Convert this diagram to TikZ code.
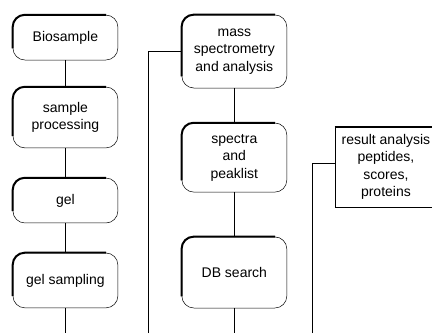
\documentclass[tikz,border=0pt]{standalone}
\usepackage{fontspec}
\setmainfont{Liberation Sans}
\usetikzlibrary{positioning}

\begin{document}
\begin{tikzpicture}[
    stage/.style={
        draw,
        line width=0.5pt,
        rounded corners=12pt,
        align=center,
        font=\fontsize{14}{17.5}\selectfont,
        minimum width=3.69cm,
        inner sep=2pt
    },
    result/.style={
        draw,
        line width=0.5pt,
        align=center,
        font=\fontsize{14}{17.5}\selectfont,
        minimum width=3.59cm,
        minimum height=2.81cm,
        inner sep=1pt
    },
    rim/.style={line width=2pt, rounded corners=12pt},
    link/.style={line width=0.5pt}
]

\clip (0,0) rectangle (15.19,-11.71);

% SAMPLE SIDE
\node[stage, minimum height=1.58cm] (bio) at (2.30,-1.32)
{Biosample};
\draw[rim] ([yshift=12pt]bio.south west) |- ([xshift=-12pt]bio.north east);

\node[stage, minimum height=2.14cm] (proc) at (2.30,-4.13)
{sample\\processing};
\draw[rim] ([yshift=12pt]proc.south west) |- ([xshift=-12pt]proc.north east);

\node[stage, minimum height=1.58cm] (gel) at (2.30,-7.05)
{gel};
\draw[rim] ([yshift=12pt]gel.south west) |- ([xshift=-12pt]gel.north east);

\node[stage, minimum height=1.93cm] (gelsamp) at (2.30,-9.86)
{gel sampling};
\draw[rim] ([yshift=12pt]gelsamp.south west) |- ([xshift=-12pt]gelsamp.north east);

\coordinate (out1) at (2.30,-11.71);

\draw[link] (bio) -- (proc);
\draw[link] (proc) -- (gel);
\draw[link] (gel) -- (gelsamp);
\draw[link] (gelsamp) -- (out1);

% MASS SPECTROMETRY SIDE
\node[stage, minimum height=2.57cm] (ms) at (8.24,-1.81)
{mass\\spectrometry\\and analysis};
\draw[rim] ([yshift=12pt]ms.south west) |- ([xshift=-12pt]ms.north east);

\node[stage, minimum height=2.43cm] (spec) at (8.24,-5.54)
{spectra\\and\\peaklist};
\draw[rim] ([yshift=12pt]spec.south west) |- ([xshift=-12pt]spec.north east);

\node[stage, minimum height=2.50cm] (db) at (8.24,-9.58)
{DB search};
\draw[rim] ([yshift=12pt]db.south west) |- ([xshift=-12pt]db.north east);

\coordinate (in2) at (5.20,-11.71);
\coordinate (out2) at (8.24,-11.71);

\draw[link] (ms) -- (spec);
\draw[link] (spec) -- (db);
\draw[link] (db) -- (out2);
\draw[link] (in2) |- (ms.west);

% RESULTS
\node[result] (res) at (13.57,-5.87)
{result analysis\\peptides,\\scores,\\proteins};
\draw[rim, rounded corners=0pt] (res.north west) -- (res.north east);

\coordinate (in3) at (10.97,-11.71);
\draw[link] (in3) |- ([yshift=4pt]res.west);

\end{tikzpicture}
\end{document}
